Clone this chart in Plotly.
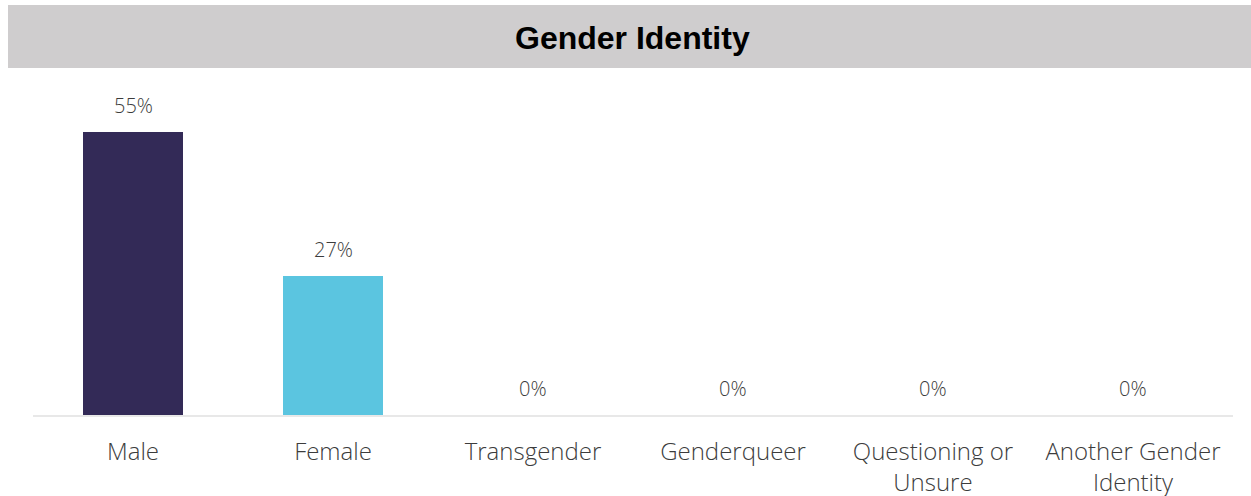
import plotly.graph_objects as go

categories = ["Male", "Female", "Transgender", "Genderqueer",
              "Questioning or<br>Unsure", "Another Gender<br>Identity"]
values = [55, 27, 0, 0, 0, 0]
bar_colors = ["#332a57", "#5bc5e0", "#5bc5e0", "#5bc5e0", "#5bc5e0", "#5bc5e0"]
title_text = "Gender Identity"

label_font = "Open Sans"

fig = go.Figure()
fig.add_trace(go.Bar(
    x=categories, y=values, width=0.5,
    marker=dict(color=bar_colors, line=dict(width=0)),
    hoverinfo="skip",
))

for c, v in zip(categories, values):
    fig.add_annotation(
        x=c, y=v, text=f"{v}%", showarrow=False,
        yanchor="bottom", yshift=11,
        font=dict(family=label_font, size=20, color="#3c3c3c", weight=300),
    )

# grey title banner across the top
fig.add_shape(type="rect", xref="paper", yref="paper",
              x0=-25/1200, x1=1218/1200, y0=1 + 12/335, y1=1 + 75/335,
              fillcolor="#cfcdce", line=dict(width=0), layer="below")
fig.add_annotation(xref="paper", yref="paper", x=(632 - 33) / 1200,
                   y=1 + 42/335, text=f"<b>{title_text}</b>", showarrow=False,
                   font=dict(family="Liberation Sans, Arial", size=32, color="#000000"),
                   xanchor="center", yanchor="middle")

fig.update_layout(
    width=1251, height=496,
    margin=dict(l=33, r=18, t=80, b=81, autoexpand=False),
    paper_bgcolor="white", plot_bgcolor="white",
    showlegend=False, bargap=0.5,
    xaxis=dict(showline=True, linecolor="#e8e8e8", linewidth=2,
               ticks="", showgrid=False, ticklabelstandoff=14, automargin=False,
               tickfont=dict(family=label_font, size=24, color="#3c3c3c", weight=300)),
    yaxis=dict(range=[0, 65.1], visible=False, showgrid=False, zeroline=False,
               automargin=False),
)

fig.write_html("out.html")
